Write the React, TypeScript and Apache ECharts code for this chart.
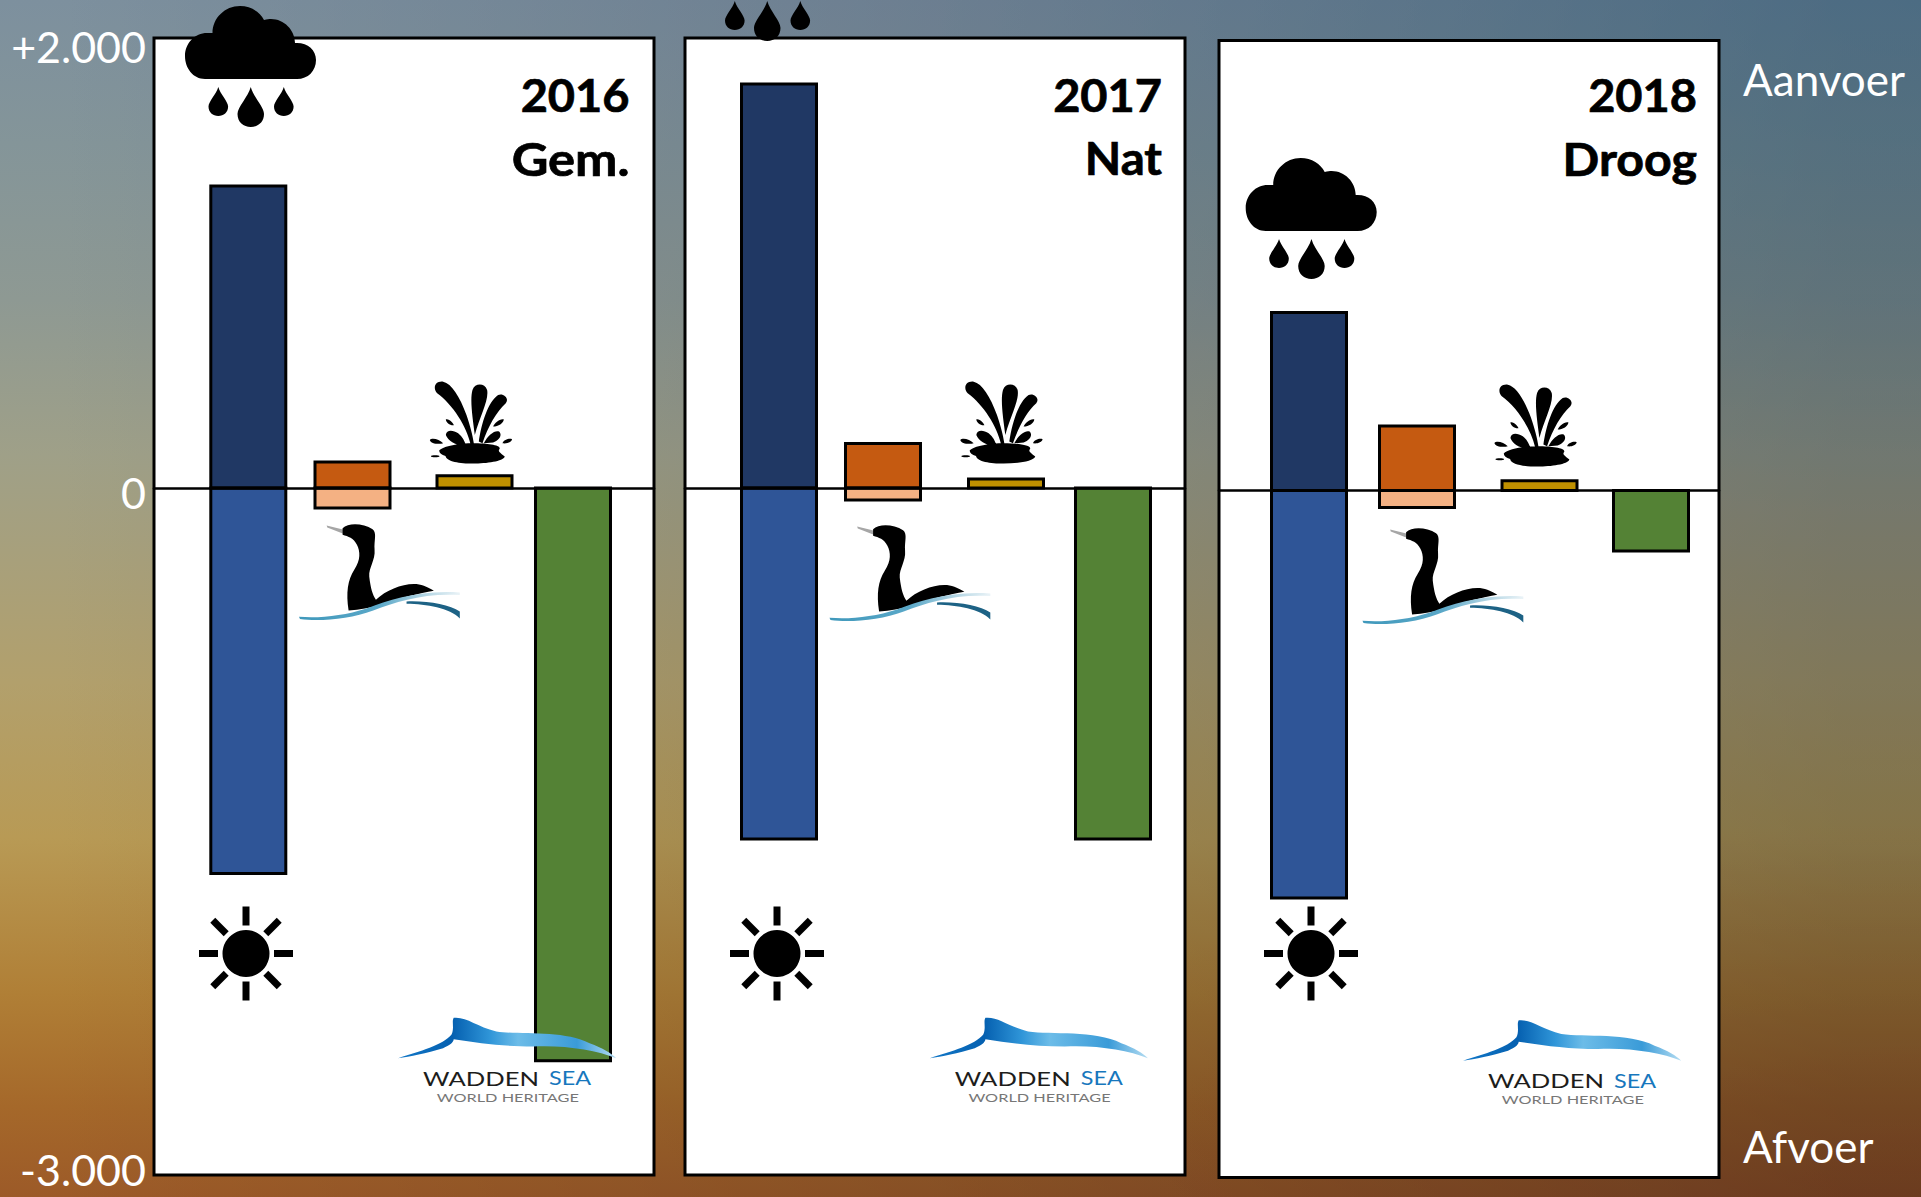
import React, { useEffect, useRef } from "react";
import * as echarts from "echarts";

// ---------- data ----------
const panelYears = ["2016", "2017", "2018"];
const panelKinds = ["Gem.", "Nat", "Droog"];
const categories = ["Neerslag / verdamping", "Vogels", "Kwel", "Waddenzee"];
const aanvoer2016 = [1327, 114, 54, 0];
const afvoer2016 = [-1694, -88, 0, -2516];
const aanvoer2017 = [1775, 196, 40, 0];
const afvoer2017 = [-1542, -53, 0, -1542];
const aanvoer2018 = [782, 283, 43, 0];
const afvoer2018 = [-1790, -75, 0, -266];
const tickValues = [2000, 0, -3000];
const tickLabels = ["+2.000", "0", "-3.000"];

// ---------- styles / layout ----------
const FONT = "Lato";
const inColors = ["#203864", "#c55a11", "#bf9000", "#548235"];
const outColors = ["#2f5597", "#f4b183", "#bf9000", "#548235"];
const panelLeft = [154, 685, 1219];
const panelTop = [38, 38, 40.5];
const zeroY = [488, 488, 490.5];
const PANEL_W = 500;
const PANEL_H = 1137;
const PX_PER_UNIT = 0.2276;
const BAR_W = 75;
const barCentres = [
  [94.3, 198.5, 320.5, 419],
  [94, 198, 321, 428],
  [90, 198, 320.5, 432],
];
const titleRight = [475.5, 477, 478];
const titleScale = [
  [1.02, 1.1],
  [1.02, 1.03],
  [1.02, 1.05],
];

// icon placement relative to the first panel
const rainOffset = [[0, 0], [516.5, -86], [1060.7, 152]];
const fountainOffset = [[0, 0], [530.5, 0], [1064.6, 3]];
const birdOffset = [[0, 0], [530.5, 1], [1063.5, 4]];
const sunCentre = [[246, 953.5], [777, 953.5], [1311, 953.5]];
const logoOffset = [[0, 0], [531.7, 0], [1065, 2.5]];

// ---------- shapes ----------
const reg = (name: string, d: string) =>
  echarts.graphic.registerShape(name, echarts.graphic.extendPath(d, {}));

reg(
  "cloudIcon",
  "M20 73 C8 73 0 62 0 50 C0 37 10 27 22 27 L27.5 27 C27.5 12 40 0 55 0 C66 0 75 6 79 14 C82 13 84 13 86 13 C99 13 110 24 110 37 L112 37 C123 37 131 44 131 54 C131 65 123 73 112 73 Z"
);
reg(
  "dropIcon",
  "M13.25 0 C16 10 26.5 20 26.5 27 C26.5 35 20.5 40 13.25 40 C6 40 0 35 0 27 C0 20 10.5 10 13.25 0 Z"
);
const blob = (cx: number, cy: number, rx: number, ry: number) =>
  `M${cx - rx} ${cy} C${cx - rx} ${cy - ry} ${cx + rx} ${cy - ry} ${cx + rx} ${cy} C${cx + rx} ${cy + ry} ${cx - rx} ${cy + ry} ${cx - rx} ${cy} Z`;
reg(
  "fountainIcon",
  [
    "M572 252 C560 200 520 135 472 100 C458 85 465 62 490 65 C515 70 540 110 560 165 C572 200 578 225 582 250 Z",
    "M585 225 C578 170 570 120 578 90 C585 68 615 68 622 90 C628 120 600 170 585 225 Z",
    "M597 245 C605 190 625 125 655 105 C670 98 690 115 678 130 C650 155 625 200 608 250 Z",
    "M555 255 C535 260 505 245 498 225 C500 208 520 210 535 220 C548 230 555 245 558 255 Z",
    "M612 250 C625 225 645 210 658 215 C668 225 660 240 640 248 Z",
    "M478 272 C490 258 540 250 580 250 C620 250 660 255 660 265 C658 272 650 272 675 290 C670 305 620 311 580 311 C540 311 500 305 497 288 C485 285 478 280 478 272 Z",
    "M498 178 C508 175 522 190 522 196 C512 198 498 188 498 178 Z",
    "M640 200 C645 188 660 175 672 178 C672 190 655 200 640 200 Z",
    "M450 240 C458 232 480 240 490 250 C478 254 452 252 450 240 Z",
    "M668 250 C672 240 688 234 697 238 C695 248 680 252 668 250 Z",
    blob(466, 289, 13, 4),
  ].join(" ")
);
reg(
  "birdBody",
  "M188 505 C205 488 250 490 278 508 C292 520 282 540 284 570 C287 600 266 625 268 650 C272 685 278 705 288 720 C320 690 370 670 410 673 C430 676 450 685 462 693 C420 700 360 715 300 735 C270 745 240 750 206 752 C198 700 203 660 223 630 C243 600 241 575 231 555 C221 535 205 530 188 525 Z"
);
reg("birdBeak", "M140 497 L192 510 L196 524 L142 503 Z");
reg(
  "birdWave",
  "M57 771 C120 776 190 768 260 746 C330 720 420 690 540 698 L540 706 C430 700 350 726 280 752 C210 778 120 786 60 778 Z"
);
reg("birdWaveDark", "M380 725 C440 722 510 735 540 755 L540 776 C510 745 440 733 380 732 Z");
reg(
  "logoSwoosh",
  "M655 535 C720 515 790 495 815 465 C825 445 815 425 822 414 C860 410 890 440 950 455 C1020 465 1150 450 1230 490 C1270 505 1295 520 1310 535 C1250 510 1150 495 1060 500 C970 500 900 490 822 478 C820 490 810 495 790 505 C740 520 690 530 655 535 Z"
);

const Z = 50;
const BLACK = { fill: "#000" };

function rainIcon(dx: number, dy: number) {
  const small = { scaleX: 0.74, scaleY: 0.725, style: BLACK, z: Z, silent: true };
  return [
    { type: "cloudIcon", x: 185 + dx, y: 6 + dy, style: BLACK, z: Z, silent: true },
    { type: "dropIcon", x: 208.5 + dx, y: 87 + dy, ...small },
    { type: "dropIcon", x: 237.5 + dx, y: 87 + dy, style: BLACK, z: Z, silent: true },
    { type: "dropIcon", x: 274 + dx, y: 87 + dy, ...small },
  ];
}

function sunIcon(cx: number, cy: number) {
  const rays: any[] = [];
  for (let i = 0; i < 8; i++) {
    const a = (i * Math.PI) / 4;
    const c = Math.cos(a);
    const s = Math.sin(a);
    rays.push({
      type: "line",
      shape: { x1: cx + 28 * c, y1: cy + 28 * s, x2: cx + 47 * c, y2: cy + 47 * s },
      style: { stroke: "#000", lineWidth: 7 },
      z: Z,
      silent: true,
    });
  }
  return [
    { type: "circle", shape: { cx, cy, r: 23.5 }, style: BLACK, z: Z, silent: true },
    ...rays,
  ];
}

function zoomShape(type: string, dx: number, dy: number, ox: number, oy: number, fill: any) {
  return {
    type,
    x: ox + dx,
    y: oy + dy,
    scaleX: 1 / 3,
    scaleY: 1 / 3,
    style: { fill },
    z: Z,
    silent: true,
  };
}

function logo(dx: number, dy: number) {
  const grad = new echarts.graphic.LinearGradient(0, 0, 1, 0, [
    { offset: 0, color: "#1278c8" },
    { offset: 0.25, color: "#0560b0" },
    { offset: 0.42, color: "#2f95d8" },
    { offset: 0.55, color: "#6cbce8" },
    { offset: 0.82, color: "#3a9bd8" },
    { offset: 1, color: "#b5ddf2" },
  ]);
  const text = (t: string, x: number, y: number, size: number, fill: string, sx: number) => ({
    type: "text",
    x: x + dx,
    y: y + dy,
    scaleX: sx,
    style: {
      text: t,
      fill,
      font: `400 ${size}px ${FONT}`,
      textAlign: "left",
      textVerticalAlign: "middle",
    },
    z: Z,
    silent: true,
  });
  return [
    zoomShape("logoSwoosh", dx, dy, 180, 880, grad),
    text("WADDEN", 423, 1078, 20, "#1d1d1b", 1.28),
    text("SEA", 549, 1078, 20, "#1777bd", 1.17),
    text("WORLD HERITAGE", 436.7, 1097, 12, "#777", 1.36),
  ];
}

function buildGraphics() {
  const out: any[] = [];
  panelLeft.forEach((_, i) => {
    out.push(...rainIcon(rainOffset[i][0], rainOffset[i][1]));
    out.push(zoomShape("fountainIcon", fountainOffset[i][0], fountainOffset[i][1], 280, 360, "#000"));
    const [bx, by] = birdOffset[i];
    const waveGrad = new echarts.graphic.LinearGradient(0, 0, 1, 0, [
      { offset: 0, color: "#3f98bb" },
      { offset: 0.5, color: "#5ba8c8" },
      { offset: 0.75, color: "#a9d0e0" },
      { offset: 1, color: "#eaf3f7" },
    ]);
    out.push(zoomShape("birdBeak", bx, by, 280, 360, "#a6a6a6"));
    out.push(zoomShape("birdBody", bx, by, 280, 360, "#000"));
    out.push(zoomShape("birdWave", bx, by, 280, 360, waveGrad));
    out.push(zoomShape("birdWaveDark", bx, by, 280, 360, "#1d6285"));
    out.push(...sunIcon(sunCentre[i][0], sunCentre[i][1]));
    out.push(...logo(logoOffset[i][0], logoOffset[i][1]));
    const right = panelLeft[i] + titleRight[i];
    [panelYears[i], panelKinds[i]].forEach((t, k) => {
      out.push({
        type: "text",
        x: right,
        y: k === 0 ? 94 : 157.5,
        scaleX: titleScale[i][k],
        style: {
          text: t,
          fill: "#000",
          stroke: "#000",
          lineWidth: 0.7,
          font: `700 46px ${FONT}`,
          textAlign: "right",
          textVerticalAlign: "middle",
        },
        z: Z,
        silent: true,
      });
    });
  });
  [["Aanvoer", 78.5], ["Afvoer", 1145.5]].forEach(([t, y]) => {
    out.push({
      type: "text",
      x: 1743,
      y,
      style: {
        text: t,
        fill: "#fff",
        font: `400 44px ${FONT}`,
        textAlign: "left",
        textVerticalAlign: "middle",
      },
      z: Z,
      silent: true,
    });
  });
  return out;
}

function barSeries(values: number[], colors: string[], panel: number) {
  return {
    type: "custom",
    xAxisIndex: panel,
    yAxisIndex: panel,
    z: 3,
    clip: false,
    encode: { x: 0, y: 1 },
    data: values.map((v, i) => [categories[i], v, i]),
    renderItem: (params: any, api: any) => {
      const idx = api.value(2);
      const v = api.value(1);
      if (!v) return null;
      const top = api.coord([idx, v]);
      const zero = api.coord([idx, 0]);
      const x = panelLeft[panel] + barCentres[panel][idx] - BAR_W / 2;
      return {
        type: "rect",
        shape: { x, y: Math.min(top[1], zero[1]), width: BAR_W, height: Math.abs(top[1] - zero[1]) },
        style: { fill: colors[idx], stroke: "#000", lineWidth: 3 },
      };
    },
  };
}

function buildOption() {
  const aanvoer = [aanvoer2016, aanvoer2017, aanvoer2018];
  const afvoer = [afvoer2016, afvoer2017, afvoer2018];
  const grids: any[] = panelLeft.map((left, i) => ({
    left,
    top: panelTop[i],
    width: PANEL_W,
    height: PANEL_H,
    show: true,
    backgroundColor: "#fff",
    borderColor: "#000",
    borderWidth: 3,
    z: 0,
  }));
  grids.push({ left: 154, top: 39, width: 1, height: 1138, show: false });

  const xAxes: any[] = panelLeft.map((_, i) => ({
    type: "category",
    gridIndex: i,
    data: categories,
    z: 10,
    axisLine: { show: true, onZero: true, lineStyle: { color: "#000", width: 2.6 } },
    axisTick: { show: false },
    axisLabel: { show: false },
    splitLine: { show: false },
  }));
  xAxes.push({ type: "category", gridIndex: 3, show: false, data: categories });

  const yAxes: any[] = panelLeft.map((_, i) => ({
    type: "value",
    gridIndex: i,
    show: false,
    max: (zeroY[i] - panelTop[i]) / PX_PER_UNIT,
    min: -(PANEL_H - (zeroY[i] - panelTop[i])) / PX_PER_UNIT,
    splitLine: { show: false },
  }));
  yAxes.push({
    type: "value",
    gridIndex: 3,
    min: -3000,
    max: 2000,
    axisLine: { show: false },
    axisTick: { show: false },
    splitLine: { show: false },
    axisLabel: {
      show: true,
      customValues: tickValues,
      margin: 8,
      color: "#fff",
      fontFamily: FONT,
      fontSize: 43,
      lineHeight: 40,
      formatter: (v: number) => {
        const i = tickValues.indexOf(v);
        if (i === 0) return `{top|${tickLabels[i]}}`;
        if (i === 2) return `{bottom|${tickLabels[i]}}`;
        return tickLabels[i];
      },
      rich: {
        top: { color: "#fff", fontFamily: FONT, fontSize: 43, lineHeight: 40, padding: [14, 0, 0, 0] },
        bottom: { color: "#fff", fontFamily: FONT, fontSize: 43, lineHeight: 40, padding: [0, 0, 6, 0] },
      },
    },
  });

  const series: any[] = [];
  panelLeft.forEach((_, i) => {
    series.push(barSeries(aanvoer[i], inColors, i));
    series.push(barSeries(afvoer[i], outColors, i));
  });

  return {
    animation: false,
    backgroundColor: "transparent",
    grid: grids,
    xAxis: xAxes,
    yAxis: yAxes,
    series,
    graphic: { elements: buildGraphics() },
  };
}

export default function App() {
  const ref = useRef<HTMLDivElement>(null);
  useEffect(() => {
    document.body.style.margin = "0";
    document.body.style.overflow = "hidden";
    const chart = echarts.init(ref.current!, undefined, { renderer: "svg" });
    chart.setOption(buildOption() as any);
    return () => chart.dispose();
  }, []);
  return (
    <div
      ref={ref}
      style={{
        width: 1921,
        height: 1197,
        backgroundImage:
          "radial-gradient(ellipse 1000px 520px at 100% 0%, #d8ffff, #ffffff), radial-gradient(ellipse 1000px 380px at 100% 100%, #f4e0f2, #ffffff), linear-gradient(to right, #ffffff 3%, #b8bfd3 96%), linear-gradient(to bottom, #7d909e 0%, #849599 12%, #8e9993 25%, #9fa088 38%, #b2a06c 57%, #b89a55 70%, #b07f36 83%, #a5682a 92.5%, #9c5a28 100%)",
        backgroundBlendMode: "multiply",
      }}
    />
  );
}
